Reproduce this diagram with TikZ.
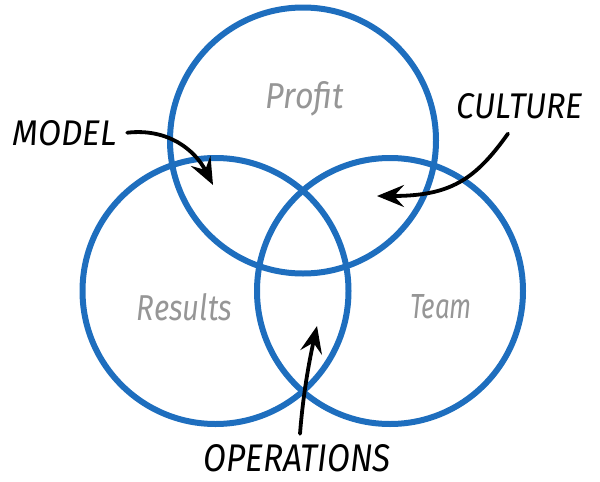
\documentclass[tikz,border=0pt]{standalone}
\usepackage{fontspec}
\usepackage{graphicx}
\newfontfamily\hand{Fira Sans}
\usetikzlibrary{arrows.meta}
\definecolor{vblue}{RGB}{30,110,190}
\definecolor{vgray}{RGB}{150,150,150}
\tikzset{
  ring/.style={draw=vblue, line width=6pt},
  word/.style={inner sep=0pt, text=vgray, font=\hand\itshape},
  callout/.style={inner sep=0pt, text=black, font=\hand\itshape},
  arr/.style={line width=3.8pt, line cap=round, -{Stealth[length=27pt,width=22pt,inset=10pt]}}
}
\begin{document}
\begin{tikzpicture}[x=1pt,y=-1pt]
\useasboundingbox (0,0) rectangle (600,482);
% circles
\node[circle, ring, minimum size=266pt, inner sep=0pt] (top) at (303,140.5) {};
\node[circle, ring, minimum size=266pt, inner sep=0pt] (left) at (215.5,291) {};
\node[circle, ring, minimum size=266pt, inner sep=0pt] (right) at (390,291) {};
% circle labels
\node[word, anchor=base] (profit) at (305,108) {\resizebox{78pt}{27pt}{Profit}};
\node[word, anchor=base] (results) at (184.5,320) {\resizebox{95pt}{27pt}{Results}};
\node[word, anchor=base] (team) at (441,318) {\resizebox{62pt}{24pt}{Team}};
% callouts
\node[callout, anchor=base] (model) at (65,145) {\resizebox{104pt}{25pt}{MODEL}};
\node[callout, anchor=base] (culture) at (520,118) {\resizebox{126pt}{25pt}{CULTURE}};
\node[callout, anchor=base] (operations) at (297,471) {\resizebox{187pt}{27pt}{OPERATIONS}};
% arrow tips
\coordinate (mtip) at (213,185);
\coordinate (ctip) at (377,196);
\coordinate (otip) at (317,326);
% arrows
\draw[arr] ([xshift=10pt]model.east) .. controls (168,128) and (195,150) .. (mtip);
\draw[arr] ([shift={(-12pt,-15pt)}]culture.south) .. controls (475,180) and (450,196) .. (ctip);
\draw[arr] ([shift={(3pt,10pt)}]operations.north) .. controls (303,395) and (309,362) .. (otip);
\end{tikzpicture}
\end{document}
